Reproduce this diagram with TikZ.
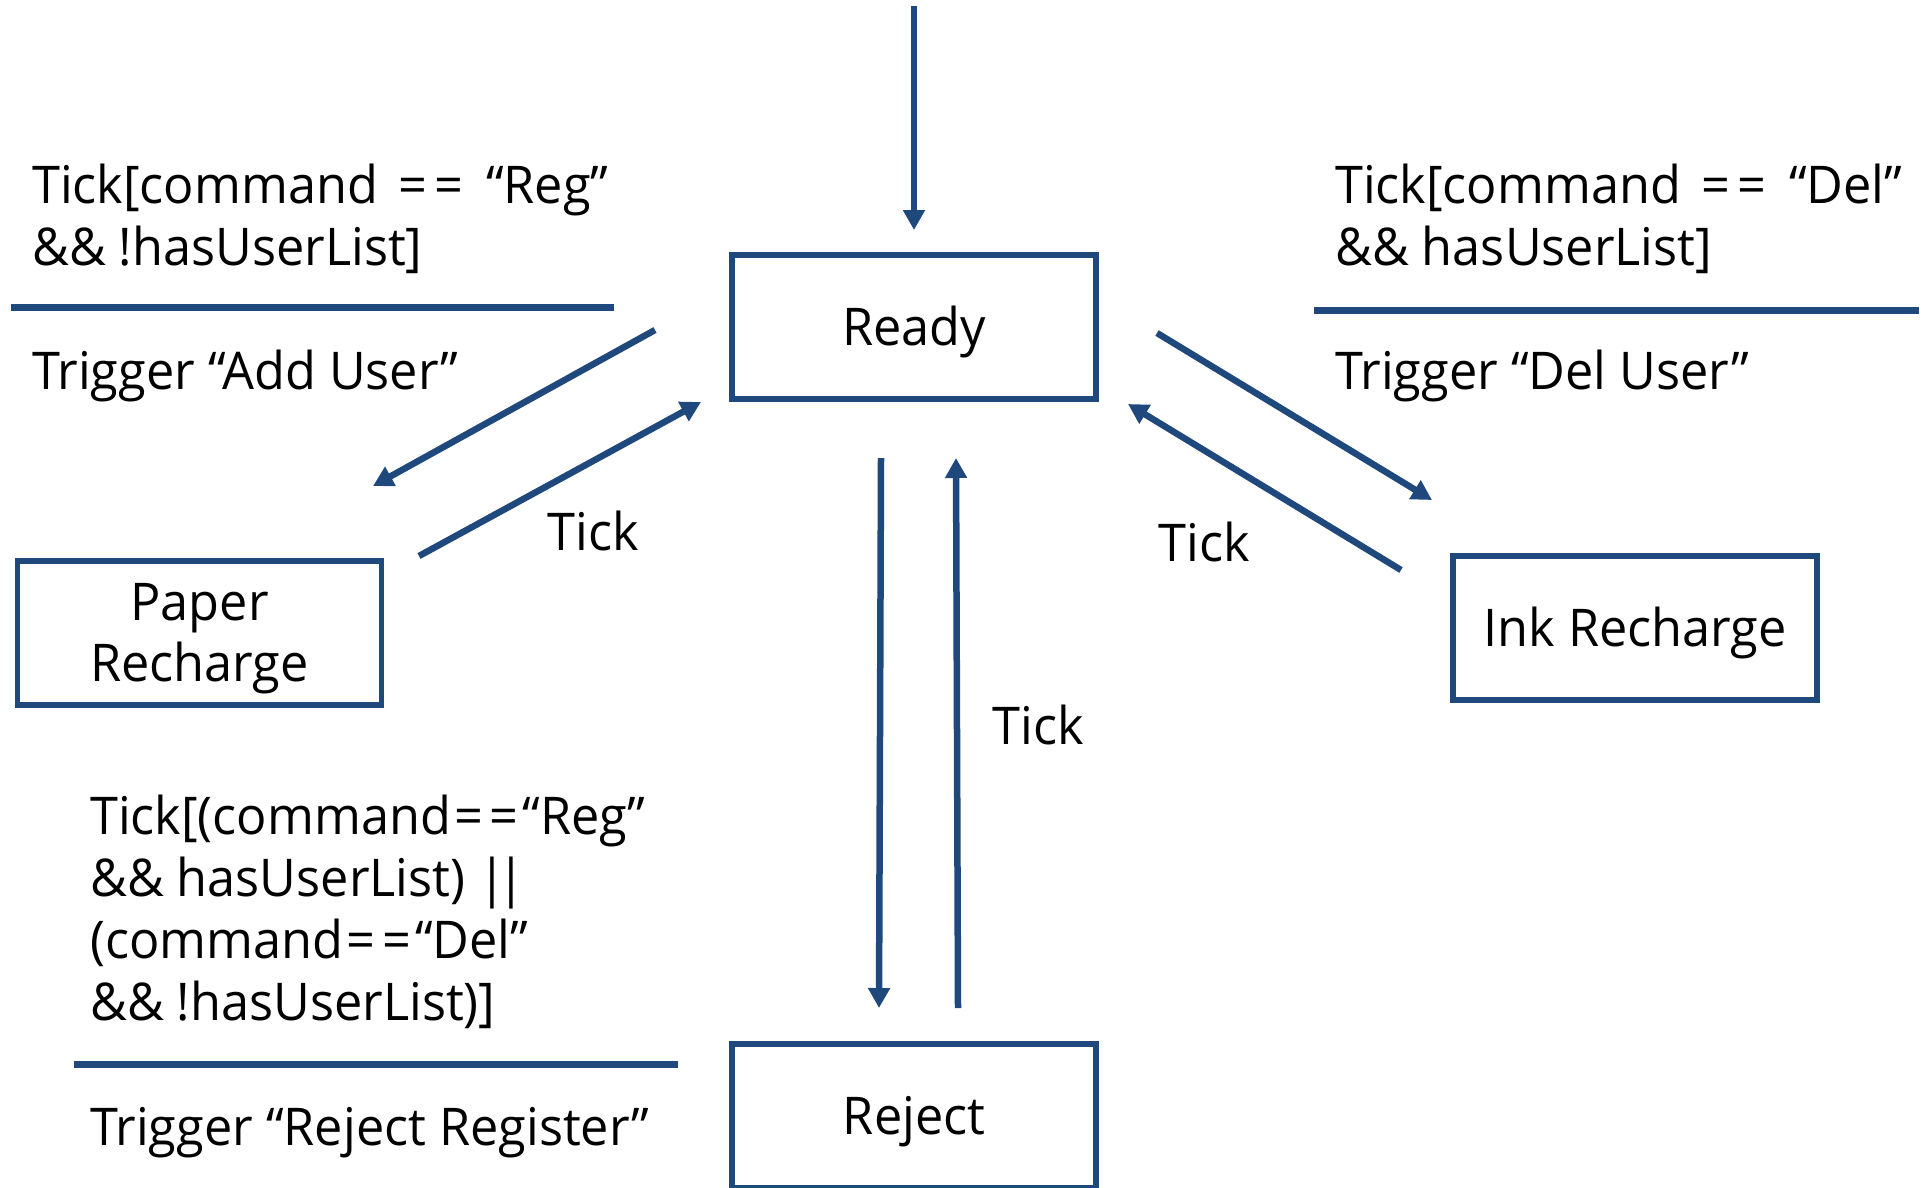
\documentclass[tikz,border=0pt]{standalone}
\usepackage{fontspec}
\setmainfont{Open Sans}[FakeStretch=0.97]
\usetikzlibrary{arrows.meta}
\definecolor{dblue}{RGB}{31,73,125}
\newcommand{\eqeq}{\kern3pt=\kern7pt=\kern4pt}
\newcommand{\oror}{|\kern-9pt|}
\tikzset{
  statebox/.style={draw=dblue, line width=5.5pt, minimum width=364pt, minimum height=144pt, inner sep=0pt,
    font=\fontsize{52pt}{61pt}\selectfont, align=center},
  onel/.style={text height=37pt, text depth=0pt},
  conn/.style={draw=dblue, line width=6.5pt, -{Triangle[width=21pt,length=20pt]}},
  sep/.style={draw=dblue, line width=7pt},
  lbl/.style={anchor=base west, inner sep=0pt, font=\fontsize{52pt}{61pt}\selectfont},
  ticklbl/.style={anchor=base, inner sep=0pt, font=\fontsize{52pt}{61pt}\selectfont}
}
\begin{document}
\begin{tikzpicture}[x=1pt, y=-1pt]
\useasboundingbox (0,0) rectangle (1926,1187);
\fill[white] (0,0) rectangle (1926,1187);

% states
\node[statebox, onel] (ready) at (914,327) {Ready};
\node[statebox] (paper) at (199.5,633)
  {\raisebox{-6pt}[\height][\depth]{\begin{tabular}{@{}c@{}}Paper\\Recharge\end{tabular}}};
\node[statebox, onel] (ink) at (1635,628) {Ink Recharge};
\node[statebox, onel] (reject) at (914,1116) {Reject};

% connector end points
\coordinate (init) at (914,6);
\coordinate (initE) at (914,230);
\coordinate (rpS) at (655,330);  \coordinate (rpE) at (373,486);
\coordinate (prS) at (419,556);  \coordinate (prE) at (701,402);
\coordinate (riS) at (1157,333); \coordinate (riE) at (1432,500);
\coordinate (irS) at (1401,570); \coordinate (irE) at (1128,404);
\coordinate (rjS) at (881,458);  \coordinate (rjE) at (879,1008);
\coordinate (jrS) at (958,1008); \coordinate (jrE) at (956,458);

\draw[conn] (init) -- (initE);
\draw[conn] (rpS) -- (rpE);
\draw[conn] (prS) -- (prE);
\draw[conn] (riS) -- (riE);
\draw[conn] (irS) -- (irE);
\draw[conn] (rjS) -- (rjE);
\draw[conn] (jrS) -- (jrE);

% tick labels
\node[ticklbl] (t1) at (593,550) {Tick};
\node[ticklbl] (t2) at (1204,561) {Tick};
\node[ticklbl] (t3) at (1038,744) {Tick};

% top-left guard/action
\node[lbl] (g1a) at (32,203) {Tick[command \hspace{4pt}\eqeq{} \hspace{6pt}“Reg”};
\node[lbl] (g1b) at (32,265) {\&\& !hasUserList]};
\draw[sep] (11,307) -- (614,307);
\node[lbl] (a1) at (32,389) {Trigger “Add User”};

% top-right guard/action
\node[lbl] (g2a) at (1335,203) {Tick[command \hspace{4pt}\eqeq{} \hspace{6pt}“Del”};
\node[lbl] (g2b) at (1335,265) {\&\& hasUserList]};
\draw[sep] (1314,310) -- (1919,310);
\node[lbl] (a2) at (1335,389) {Trigger “Del User”};

% bottom-left guard/action
\node[lbl] (g3a) at (90,834) {Tick[(command\eqeq“Reg”};
\node[lbl] (g3b) at (90,896) {\&\& hasUserList) \oror};
\node[lbl] (g3c) at (90,958) {(command\eqeq“Del”};
\node[lbl] (g3d) at (90,1020) {\&\& !hasUserList)]};
\draw[sep] (74,1064) -- (678,1064);
\node[lbl] (a3) at (90,1145) {Trigger “Reject Register”};
\end{tikzpicture}
\end{document}
